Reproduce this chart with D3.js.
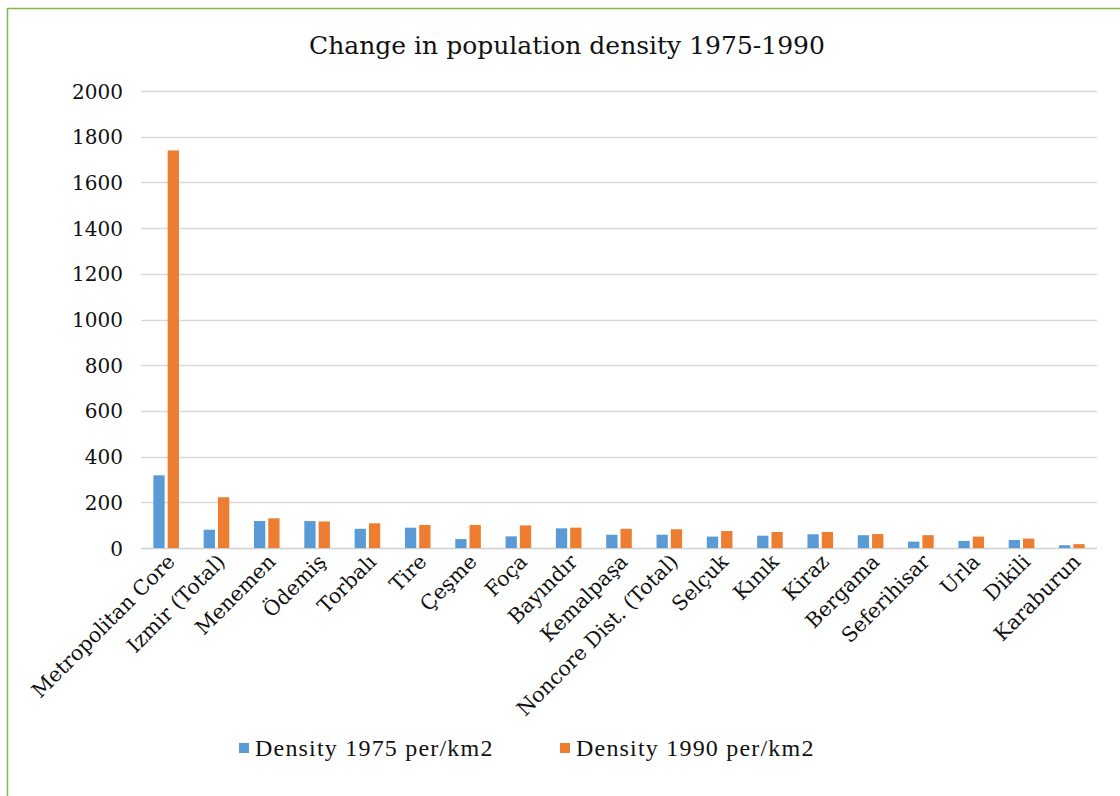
<!DOCTYPE html>
<html>
<head>
<meta charset="utf-8">
<script src="https://cdn.jsdelivr.net/npm/d3@7"></script>
<style>
  body { margin: 0; background: #fff; }
  svg { display: block; }
</style>
</head>
<body>
<svg class="chart"></svg>
<script>
const categories = [
  "Metropolitan Core", "Izmir (Total)", "Menemen", "Ödemiş", "Torbalı", "Tire",
  "Çeşme", "Foça", "Bayındır", "Kemalpaşa", "Noncore Dist. (Total)", "Selçuk",
  "Kınık", "Kiraz", "Bergama", "Seferihisar", "Urla", "Dikili", "Karaburun"
];
const density1975 = [318, 80, 118, 118, 84, 89, 39, 51, 86, 58, 58, 50, 54, 60, 56, 28, 31, 35, 12];
const density1990 = [1740, 222, 130, 116, 108, 101, 101, 99, 89, 84, 82, 74, 70, 70, 61, 56, 50, 41, 17];
const seriesNames = ["Density 1975 per/km2", "Density 1990 per/km2"];
const seriesColors = ["#5b9bd5", "#ed7d31"];
const yTicks = [0, 200, 400, 600, 800, 1000, 1200, 1400, 1600, 1800, 2000];

const width = 1120;
const height = 796;
const margin = { top: 91, right: 23, bottom: 248, left: 141 };
const serif = "'DejaVu Serif', serif";

const svg = d3.select(".chart").attr("width", width).attr("height", height);

// green frame (only left and top visible)
svg.append("path")
  .attr("d", `M7.5,${height} V8.5 H${width}`)
  .attr("fill", "none")
  .attr("stroke", "#7dbb48")
  .attr("stroke-width", 1.5);

svg.append("text")
  .attr("x", 567)
  .attr("y", 54)
  .attr("text-anchor", "middle")
  .attr("font-family", serif)
  .attr("font-size", "25px")
  .attr("fill", "#111")
  .text("Change in population density 1975-1990");

const x = d3.scaleBand()
  .domain(categories)
  .range([margin.left, width - margin.right])
  .paddingInner(0)
  .paddingOuter(0);

const y = d3.scaleLinear()
  .domain([0, 2000])
  .range([height - margin.bottom, margin.top]);

// gridlines
svg.append("g")
  .selectAll("line")
  .data(yTicks)
  .join("line")
  .attr("x1", margin.left)
  .attr("x2", width - margin.right)
  .attr("y1", (d) => Math.round(y(d)) + 0.5)
  .attr("y2", (d) => Math.round(y(d)) + 0.5)
  .attr("stroke", (d) => (d === 0 ? "#d0d0d0" : "#d9d9d9"))
  .attr("stroke-width", 1.3);

// y axis labels
const yAxis = svg.append("g")
  .attr("transform", `translate(${margin.left - 18},0)`)
  .call(d3.axisLeft(y).tickValues(yTicks).tickSize(0).tickPadding(0).tickFormat(d3.format("d")));
yAxis.select(".domain").remove();
yAxis.selectAll("text")
  .attr("font-family", serif)
  .attr("font-size", "20px")
  .attr("fill", "#111")
  .attr("dy", "0.35em");

// bars
const barW = 11.3;
const gap = 3;
const groups = svg.append("g")
  .selectAll("g")
  .data(categories)
  .join("g")
  .attr("transform", (d) => `translate(${x(d) + x.bandwidth() / 2},0)`);

groups.append("rect")
  .attr("x", -barW - gap / 2)
  .attr("width", barW)
  .attr("y", (d, i) => y(density1975[i]))
  .attr("height", (d, i) => y(0) - y(density1975[i]))
  .attr("fill", seriesColors[0]);

groups.append("rect")
  .attr("x", gap / 2)
  .attr("width", barW)
  .attr("y", (d, i) => y(density1990[i]))
  .attr("height", (d, i) => y(0) - y(density1990[i]))
  .attr("fill", seriesColors[1]);

// category labels rotated -45
const xAxis = svg.append("g")
  .attr("transform", `translate(0,${height - margin.bottom})`)
  .call(d3.axisBottom(x).tickSize(0).tickPadding(0));
xAxis.select(".domain").remove();
xAxis.selectAll("text")
  .attr("font-family", serif)
  .attr("font-size", "20.5px")
  .attr("fill", "#111")
  .attr("text-anchor", "end")
  .attr("dy", null)
  .attr("y", 0)
  .attr("transform", "translate(10,15) rotate(-45)");

// legend
const legend = svg.append("g")
  .selectAll("g")
  .data(seriesNames)
  .join("g")
  .attr("transform", (d, i) => `translate(${239 + i * 321},748)`);

legend.append("rect")
  .attr("x", 0)
  .attr("y", -5)
  .attr("width", 10)
  .attr("height", 10)
  .attr("fill", (d, i) => seriesColors[i]);

legend.append("text")
  .attr("x", 16)
  .attr("y", 0)
  .attr("dy", "0.35em")
  .attr("font-family", "'Liberation Serif', serif")
  .attr("font-size", "24px")
  .attr("letter-spacing", "1.2px")
  .attr("fill", "#111")
  .text((d) => d);
</script>
</body>
</html>
